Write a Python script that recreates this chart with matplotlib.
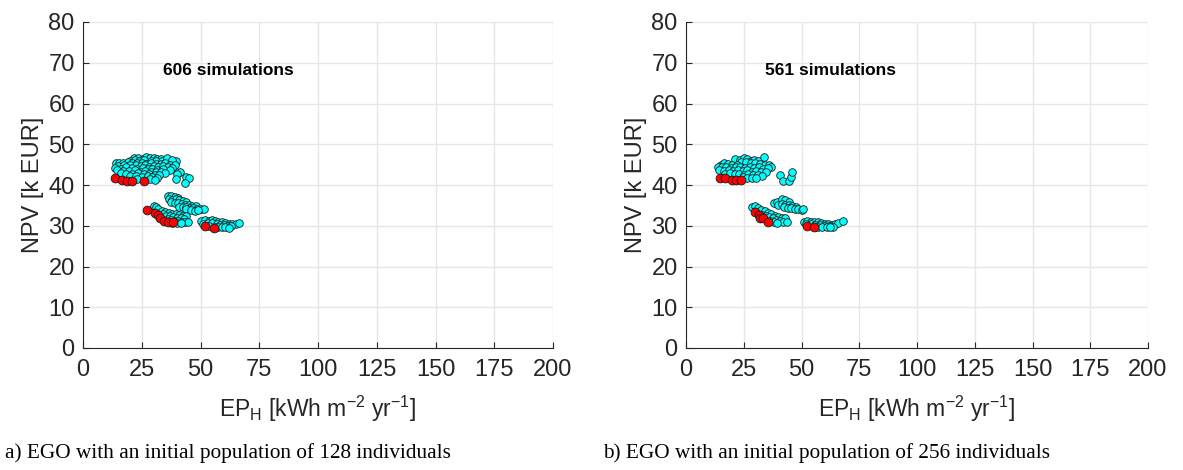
import matplotlib
matplotlib.use("Agg")
import matplotlib.pyplot as plt

plt.rcParams['font.family'] = ['Liberation Sans', 'DejaVu Sans']
plt.rcParams['mathtext.fontset'] = 'custom'
plt.rcParams['mathtext.rm'] = 'Liberation Sans'
plt.rcParams['mathtext.it'] = 'Liberation Sans'

# a) 128 individuals - all evaluated designs (cyan)
a_all = [
    (21.5, 46.6), (23.5, 46.7), (25.5, 46.5), (27, 46.8), (28.5, 46.6), (30, 46.7), (31.5, 46.5), (33, 46.3),
    (20, 46.0), (22, 46.1), (24, 45.9), (26, 46.1), (29, 46.0), (31, 45.9), (33.5, 45.8), (35.8, 46.6), (39.5, 45.9), (38, 46.2),
    (14, 45.3), (15.5, 45.5), (17, 45.4), (19, 45.6), (21, 45.3), (23, 45.4), (25, 45.5), (27, 45.2), (29, 45.4),
    (31, 45.2), (33, 45.1), (35, 45.3), (37, 45.0), (39, 44.8),
    (15, 44.7), (17.5, 44.9), (20, 44.8), (22.5, 44.9), (24.5, 44.6), (26.5, 44.8), (28, 44.5), (30, 44.7), (32, 44.5),
    (34, 44.6), (36, 44.4), (38, 44.2),
    (13.5, 44.2), (16, 44.0), (18.5, 44.3), (21, 44.1), (23, 44.0), (25.5, 44.2), (27.5, 43.9), (29.5, 44.0), (31.5, 43.8),
    (34, 43.9), (37, 43.6), (41.2, 43.1), (39.9, 42.7),
    (14.5, 43.6), (17, 43.5), (19.5, 43.4), (22, 43.6), (24.5, 43.3), (26.5, 43.5), (29, 43.2), (31, 43.3), (33, 43.1), (35, 42.9),
    (16, 42.9), (18.5, 42.8), (21, 42.7), (23.5, 42.9), (26, 42.6), (28, 42.8), (30.5, 42.5), (32.5, 42.4),
    (20, 42.2), (22.5, 42.3), (25, 42.0), (27.5, 42.1), (29.5, 41.9), (31.5, 41.8), (39.6, 41.4), (44, 41.9), (45.2, 41.8),
    (23, 41.5), (28.5, 41.4), (30.5, 41.3), (43.4, 40.6),
    (36, 37.2), (37.5, 37.4), (39, 37.0), (40.5, 36.8), (36.5, 36.5), (38, 36.3), (39.5, 36.5), (41, 36.2), (42.5, 36.0), (44, 35.8),
    (37.5, 35.8), (39, 35.6), (40.5, 35.5), (42, 35.3), (43.5, 35.2), (45, 35.1), (46.5, 34.9), (48, 34.8),
    (41, 34.7), (42.5, 34.6), (44, 34.5), (45.5, 34.4), (47, 34.3), (48.5, 34.2), (50, 34.1), (51.5, 34.2),
    (44, 34.0), (46, 33.8), (47.5, 33.7), (49, 33.8),
    (30.2, 34.9), (31.2, 34.5), (32, 34.0), (33.5, 33.6), (35, 33.4), (36.5, 33.2), (38, 33.0), (39.5, 32.8), (41, 32.6),
    (42.5, 32.5), (44, 32.3),
    (34, 32.8), (35.5, 32.5), (37, 32.3), (38.5, 32.1), (40, 31.9), (41.5, 31.8), (43, 31.6),
    (36, 31.6), (37.5, 31.4), (39, 31.2), (40.5, 31.1), (42, 31.0), (43.5, 30.9), (44.7, 30.8),
    (38, 30.7), (40, 30.6), (41.5, 30.6),
    (50.4, 31.1), (52, 31.4), (53.5, 31.2), (54.8, 31.5), (56, 31.2), (57.5, 31.0), (59, 30.8), (60.5, 30.6), (62, 30.5),
    (63.5, 30.4), (65, 30.5), (66.5, 30.6),
    (51, 30.5), (53, 30.6), (55, 30.6), (57, 30.4), (58.5, 30.2), (60, 30.1), (61.5, 30.0), (63, 29.9),
    (53.5, 29.9), (56, 29.8), (57.5, 29.7), (59, 29.6), (60.5, 29.6), (62, 29.5),
]
# a) Pareto front (red)
a_pareto = [
    (13.5, 41.6), (16.5, 41.2), (18.7, 41.0), (20.9, 41.0), (26.0, 41.0),
    (27.4, 33.9), (30.6, 33.1), (32.0, 32.6), (32.8, 31.8), (34.5, 31.2), (36.3, 30.8), (38.4, 30.8),
    (51.8, 29.9), (55.7, 29.5),
]

# b) 256 individuals - all evaluated designs (cyan)
b_all = [
    (21.3, 46.5), (23.5, 46.2), (25, 46.6), (26.5, 46.3), (28, 46.0), (29.5, 46.1), (31, 45.8), (33.8, 46.8),
    (24, 45.6), (26, 45.7), (28, 45.4), (30, 45.5), (32, 45.2), (34, 45.0), (36, 44.9), (37, 44.4),
    (15, 45.0), (16.5, 45.3), (18, 45.1), (20, 44.8), (22, 44.9),
    (14, 44.5), (15.5, 44.3), (17.5, 44.5), (19.5, 44.2), (21.5, 44.3), (23.5, 44.5), (25.5, 44.2), (27.5, 44.4),
    (29.5, 44.1), (31.5, 44.3), (33.5, 44.0), (35.5, 44.2),
    (14.5, 43.7), (16.5, 43.5), (18.5, 43.7), (20.5, 43.4), (22.5, 43.6), (24.5, 43.4), (26.5, 43.6), (28.5, 43.3),
    (30.5, 43.5), (32.5, 43.2), (34.5, 43.1),
    (17, 42.8), (19, 42.9), (21, 42.6), (23, 42.8), (25, 42.5), (27, 42.7), (29, 42.4), (31, 42.5), (33, 42.2),
    (24.5, 41.9), (26.5, 41.7), (28.5, 41.8), (30.5, 41.6),
    (40.7, 42.5), (42.1, 41.1), (44.6, 41.0), (45.5, 42.0), (45.7, 43.1),
    (38, 35.5), (39.5, 35.9), (41.4, 36.5), (43, 36.2), (44.5, 35.9), (40, 35.2), (41.5, 35.4), (43, 35.0), (44.5, 35.2),
    (46, 34.9), (47.5, 34.6), (42.5, 34.6), (44, 34.4), (45.5, 34.3), (47, 34.1), (48.5, 34.0), (50, 33.9), (50.8, 34.2),
    (28.5, 34.6), (30, 34.9), (31, 34.3), (32.5, 33.9), (34, 33.5), (35.5, 33.1), (37, 32.8), (38.5, 32.5), (40, 32.2),
    (41.5, 32.0), (43, 31.8),
    (33, 32.7), (34.5, 32.4), (36, 32.1), (37.5, 31.8), (39, 31.5), (40.5, 31.2), (42, 31.0), (43.6, 30.8),
    (36.5, 31.2), (38, 30.9), (39.5, 30.7),
    (51.1, 31.0), (52.5, 31.2), (54, 31.0), (55.5, 30.9), (57, 30.8), (58.5, 30.6), (60, 30.5), (61.5, 30.4), (63, 30.3),
    (64.5, 30.4), (65.9, 30.6), (67.8, 31.2),
    (52, 30.4), (54, 30.4), (56, 30.2), (58, 30.1), (60, 30.0), (62, 29.9), (63.5, 29.8),
    (57, 29.7), (59, 29.6), (61, 29.6), (62.5, 29.7),
]
# b) Pareto front (red)
b_pareto = [
    (14.7, 41.8), (16.9, 41.7), (19.8, 41.2), (21.6, 41.2), (23.6, 41.2),
    (29.9, 33.4), (31.6, 32.6), (31.9, 31.8), (33.5, 31.8), (35.6, 31.0),
    (52.3, 29.9), (55.4, 29.7),
]

sim_counts = ["606 simulations", "561 simulations"]
captions = ["a) EGO with an initial population of 128 individuals",
            "b) EGO with an initial population of 256 individuals"]
x_ticks = [0, 25, 50, 75, 100, 125, 150, 175, 200]
y_ticks = [0, 10, 20, 30, 40, 50, 60, 70, 80]

fig = plt.figure(figsize=(11.83, 4.70), dpi=100)
ax_a = fig.add_axes([83 / 1183, 1 - 348 / 470, 470 / 1183, 326 / 470])
ax_b = fig.add_axes([686 / 1183, 1 - 348 / 470, 462 / 1183, 326 / 470])

for ax, pts, par, txt in [(ax_a, a_all, a_pareto, sim_counts[0]), (ax_b, b_all, b_pareto, sim_counts[1])]:
    ax.scatter([p[0] for p in pts], [p[1] for p in pts], s=30, c='#00ffff',
               edgecolors='#1a1a1a', linewidths=0.6, zorder=3)
    ax.scatter([p[0] for p in par], [p[1] for p in par], s=40, c='#ff0000',
               edgecolors='#1a1a1a', linewidths=0.6, zorder=4)
    ax.set_xlim(0, 200)
    ax.set_ylim(0, 80)
    ax.set_xticks(x_ticks)
    ax.set_yticks(y_ticks)
    ax.grid(True, color='#e6e6e6', linewidth=1)
    ax.set_axisbelow(True)
    for s in ['top', 'right']:
        ax.spines[s].set_visible(False)
    for s in ['left', 'bottom']:
        ax.spines[s].set_color('#262626')
        ax.spines[s].set_linewidth(0.8)
    ax.tick_params(direction='in', length=4, width=0.8, color='#262626',
                   labelsize=17, labelcolor='#262626')
    ax.tick_params(axis='x', pad=8)
    ax.tick_params(axis='y', pad=6)
    ax.set_xlabel(r'EP$_{\mathrm{H}}$ [kWh m$^{\mathrm{-2}}$ yr$^{\mathrm{-1}}$]',
                  fontsize=16.5, color='#262626', labelpad=9)
    ax.set_ylabel('NPV [k EUR]', fontsize=17, color='#262626', labelpad=3)
    ax.text(34, 68.2, txt, fontsize=12.5, fontweight='bold', va='center', ha='left')

fig.text(5 / 1183, 1 - 453 / 470, captions[0], family='Liberation Serif', fontsize=15.3, va='center', ha='left')
fig.text(603 / 1183, 1 - 453 / 470, captions[1], family='Liberation Serif', fontsize=15.3, va='center', ha='left')

fig.savefig("out.png", dpi=100)
